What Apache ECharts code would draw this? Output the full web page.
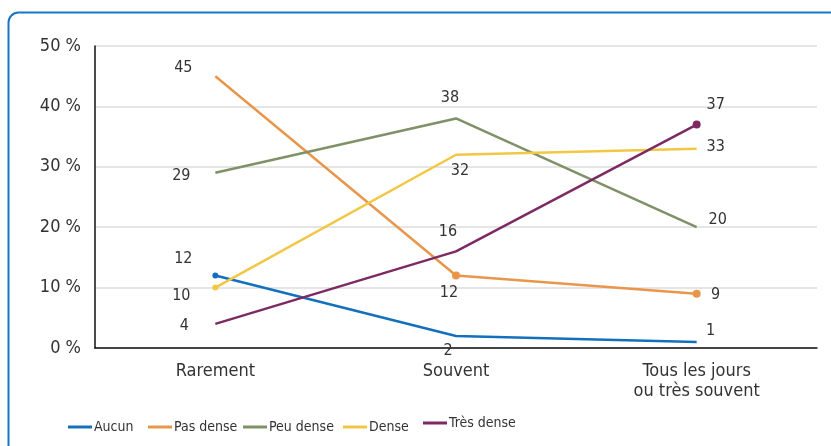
<!DOCTYPE html>
<html>
<head>
<meta charset="utf-8">
<script src="https://cdn.jsdelivr.net/npm/echarts@6/dist/echarts.min.js"></script>
<style>
  html, body { margin: 0; padding: 0; background: #fff; }
  #chart { width: 831px; height: 446px; }
</style>
</head>
<body>
<div id="chart"></div>
<script>
const categories = ['Rarement', 'Souvent', 'Tous les jours\nou très souvent'];
const yTicks = [0, 10, 20, 30, 40, 50];

const aucun = [12, 2, 1];
const pasDense = [45, 12, 9];
const peuDense = [29, 38, 20];
const dense = [10, 32, 33];
const tresDense = [4, 16, 37];

const FONT = "'Liberation Sans Narrow', 'Arial Narrow', 'DejaVu Sans Condensed', sans-serif";

// label offsets from each point, marker size (0 = none), legend spot (icon left, text middle)
const look = {
  'Aucun':      { color: '#1470bd', off: [[-32, -17], [-8, 15], [14, -11]], mk: [6, 0, 0], lg: [68, 426] },
  'Pas dense':  { color: '#e8964b', off: [[-32, -8], [-7, 17], [19, 1]],   mk: [0, 8, 8], lg: [148, 426] },
  'Peu dense':  { color: '#7f9166', off: [[-34, 3], [-6, -21], [21, -7]],  mk: [0, 0, 0], lg: [243, 426] },
  'Dense':      { color: '#f2c744', off: [[-34, 8], [4, 16], [19, -2]],    mk: [6, 0, 0], lg: [343, 426] },
  'Très dense': { color: '#7c2a61', off: [[-31, 2], [-8, -20], [19, -20]], mk: [0, 0, 8], lg: [423, 422] }
};

function makeSeries(name, values) {
  const s = look[name];
  return {
    name: name,
    type: 'line',
    symbol: 'circle',
    showAllSymbol: true,
    color: s.color,
    lineStyle: { width: 2.5, color: s.color },
    itemStyle: { color: s.color },
    emphasis: { disabled: true },
    data: values.map((v, i) => ({
      value: v,
      symbolSize: s.mk[i],
      label: {
        show: true,
        position: 'inside',
        offset: s.off[i],
        color: '#333',
        fontSize: 16,
        fontFamily: FONT
      }
    }))
  };
}

// one legend per item so each sits where it does in the original
const legends = Object.keys(look).map(name => ({
  left: look[name].lg[0],
  top: look[name].lg[1] - 6,
  padding: 0,
  icon: 'rect',
  itemWidth: 24,
  itemHeight: 3,
  textStyle: { color: '#333', fontSize: 14, fontFamily: FONT, padding: [0, 0, 0, -3] },
  data: [name]
}));

const chart = echarts.init(document.getElementById('chart'));
chart.setOption({
  animation: false,
  backgroundColor: '#fff',
  graphic: [{
    type: 'rect',
    left: 6,
    top: 10,
    shape: { width: 1200, height: 1000, r: 10 },
    style: { fill: 'none', stroke: '#1a76c2', lineWidth: 2 },
    z: -1
  }],
  grid: { left: 95, right: 14, top: 46, bottom: 98 },
  legend: legends,
  xAxis: {
    type: 'category',
    data: categories,
    axisTick: { show: false },
    axisLine: { lineStyle: { color: '#111', width: 1.5 } },
    axisLabel: { color: '#333', fontSize: 18, fontFamily: FONT, margin: 13, lineHeight: 20 }
  },
  yAxis: {
    type: 'value',
    min: yTicks[0],
    max: yTicks[yTicks.length - 1],
    interval: 10,
    axisLine: { show: true, lineStyle: { color: '#111', width: 1.5 } },
    axisTick: { show: false },
    splitLine: { lineStyle: { color: '#dcdcdc', width: 1.5 } },
    axisLabel: { color: '#333', fontSize: 18, fontFamily: FONT, margin: 14, formatter: '{value} %' }
  },
  series: [
    makeSeries('Aucun', aucun),
    makeSeries('Pas dense', pasDense),
    makeSeries('Peu dense', peuDense),
    makeSeries('Dense', dense),
    makeSeries('Très dense', tresDense)
  ]
});
</script>
</body>
</html>
